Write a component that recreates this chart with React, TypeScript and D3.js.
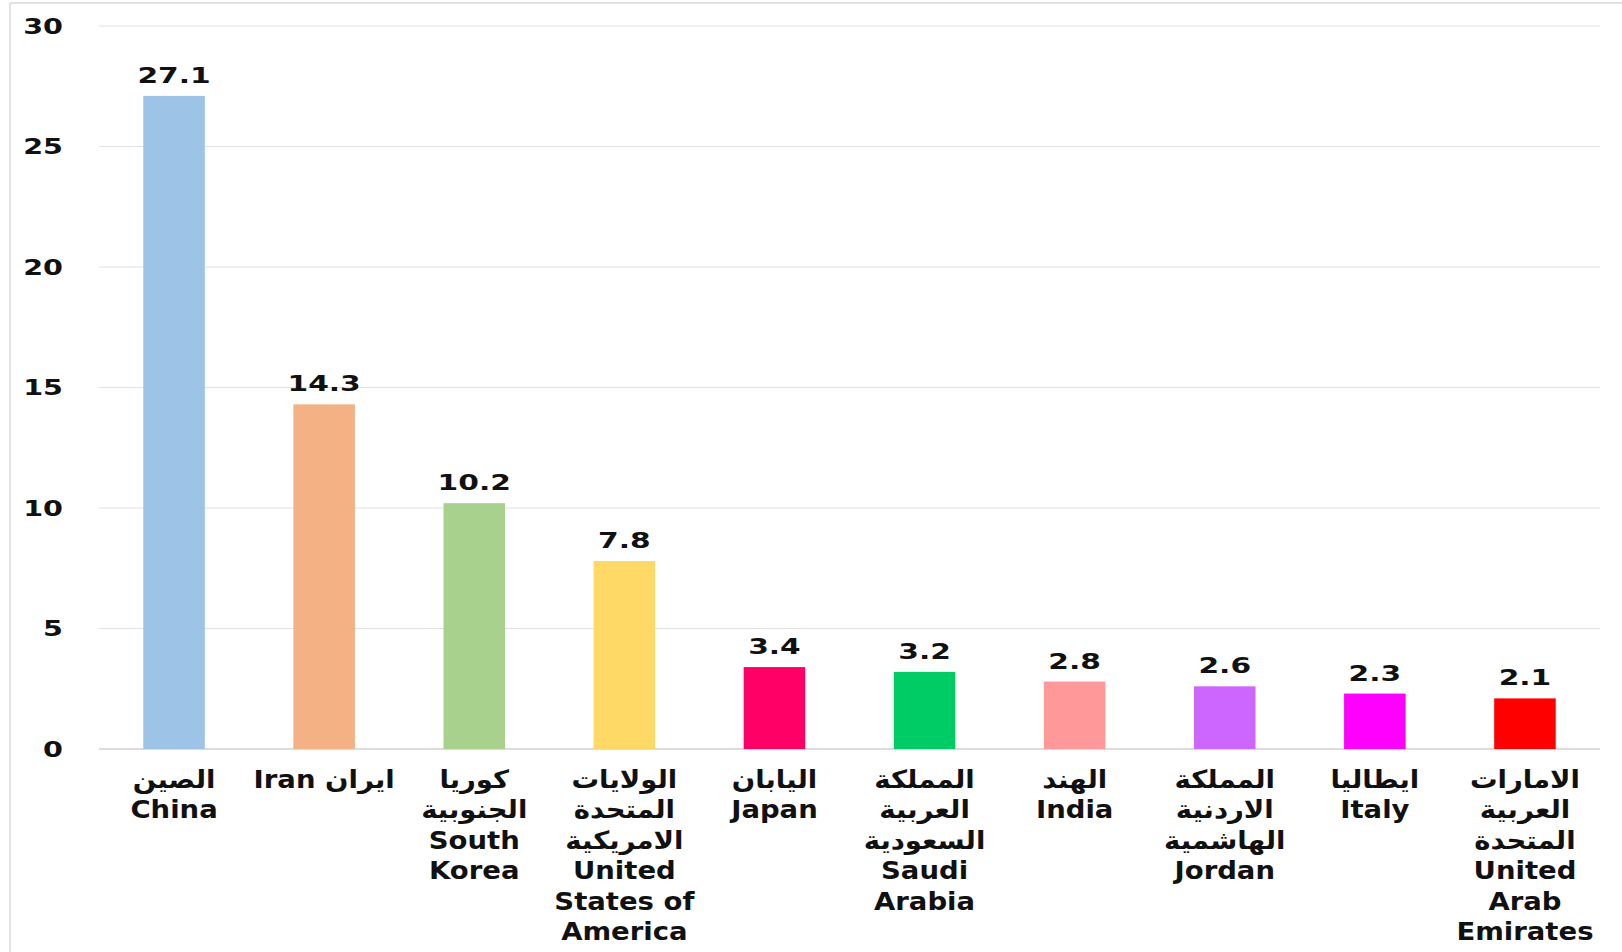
import React from "react";
import * as d3 from "d3";

// chart values
const countries = ["China", "Iran", "South Korea", "United States of America", "Japan", "Saudi Arabia", "India", "Jordan", "Italy", "United Arab Emirates"];
const values = [27.1, 14.3, 10.2, 7.8, 3.4, 3.2, 2.8, 2.6, 2.3, 2.1];
const barColors = ["#9DC3E6", "#F4B183", "#A9D18E", "#FFD966", "#FF0066", "#00CC66", "#FF9999", "#CC66FF", "#FF00FF", "#FF0000"];
// label lines under every bar (arabic first, then english)
const labelLines = [
  ["الصين", "China"],
  ["Iran ايران"],
  ["كوريا", "الجنوبية", "South", "Korea"],
  ["الولايات", "المتحدة", "الامريكية", "United", "States of", "America"],
  ["اليابان", "Japan"],
  ["المملكة", "العربية", "السعودية", "Saudi", "Arabia"],
  ["الهند", "India"],
  ["المملكة", "الاردنية", "الهاشمية", "Jordan"],
  ["ايطاليا", "Italy"],
  ["الامارات", "العربية", "المتحدة", "United", "Arab", "Emirates"],
];
const yTicks = [0, 5, 10, 15, 20, 25, 30];

const W = 1622, H = 952;
const FONT = "'DejaVu Sans', Verdana, sans-serif";

export default function App() {
  const x = d3.scaleBand<string>().domain(countries).range([99, 1600]).paddingInner(0.59).paddingOuter(0.295);
  const y = d3.scaleLinear().domain([0, 30]).range([749, 26]);

  return (
    <svg width={W} height={H} style={{ position: "absolute", left: 0, top: 0, background: "#fff" }}>
      {/* frame */}
      <line x1={10} x2={W} y1={3} y2={3} stroke="#d9d9d9" strokeWidth={1.5} />
      <line x1={10} x2={10} y1={3} y2={H} stroke="#d9d9d9" strokeWidth={1.5} />

      {/* grid + y ticks */}
      {yTicks.map(t => (
        <g key={t}>
          <line x1={99} x2={1600} y1={y(t)} y2={y(t)} stroke={t === 0 ? "#d0d0d0" : "#e0e0e0"} strokeWidth={t === 0 ? 1.5 : 1} />
          <text transform={`translate(63,${y(t)}) scale(1.3,1)`} textAnchor="end" dominantBaseline="central"
            fontFamily={FONT} fontWeight="bold" fontSize={22} fill="#111">{t}</text>
        </g>
      ))}

      {/* bars */}
      {countries.map((c, i) => (
        <rect key={c} x={x(c)} y={y(values[i])} width={x.bandwidth()} height={y(0) - y(values[i])} fill={barColors[i]} />
      ))}

      {/* values over bars */}
      {countries.map((c, i) => (
        <text key={c} transform={`translate(${x(c)! + x.bandwidth() / 2},${y(values[i]) - 13}) scale(1.35,1)`}
          textAnchor="middle" fontFamily={FONT} fontWeight="bold" fontSize={22} fill="#111">
          {values[i]}
        </text>
      ))}

      {/* category labels */}
      {countries.map((c, i) => (
        <g key={c}>
          {labelLines[i].map((ln, j) => (
            <text key={j} transform={`translate(${x(c)! + x.bandwidth() / 2},${788 + j * 30.4}) scale(1.1,1)`}
              textAnchor="middle" fontFamily={FONT} fontWeight="bold" fontSize={25} fill="#111">
              {ln}
            </text>
          ))}
        </g>
      ))}
    </svg>
  );
}
